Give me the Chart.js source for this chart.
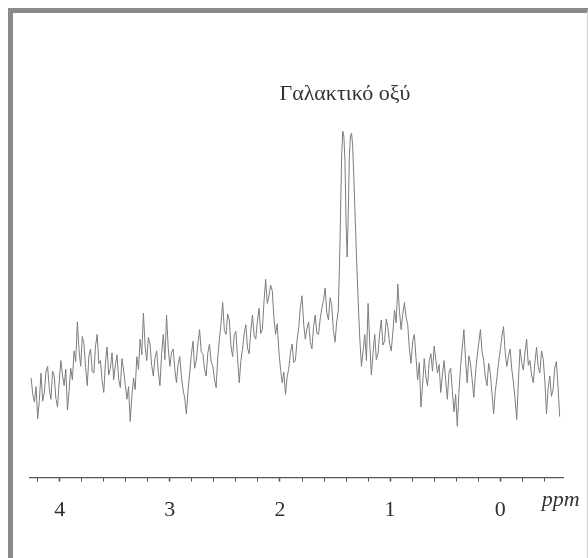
<!DOCTYPE html>
<html>
<head>
<meta charset="utf-8">
<script src="https://cdn.jsdelivr.net/npm/chart.js@4.4.1/dist/chart.umd.min.js"></script>
<style>
  html, body { margin: 0; padding: 0; background: #fff; }
  #wrap { position: relative; width: 588px; height: 558px; overflow: hidden; }
  #grafico { position: absolute; left: 0; top: 0; }
  #marco {
    position: absolute; left: 8px; top: 8px; width: 580px; height: 560px;
    border-left: 5px solid #8a8a8a; border-top: 5px solid #8a8a8a;
    border-right: 1px solid #d0d0d0; box-sizing: border-box; pointer-events: none;
  }
</style>
</head>
<body>
<div id="wrap">
  <canvas id="grafico" width="588" height="558"></canvas>
  <div id="marco"></div>
</div>
<script>
// chemical shift (ppm) of each sample
const desplazamiento = [
  4.26, 4.245, 4.23, 4.215, 4.20, 4.185, 4.17, 4.155, 4.14, 4.125,
  4.11, 4.095, 4.08, 4.065, 4.05, 4.035, 4.02, 4.005, 3.99, 3.975,
  3.96, 3.945, 3.93, 3.915, 3.90, 3.885, 3.87, 3.855, 3.84, 3.825,
  3.81, 3.795, 3.78, 3.765, 3.75, 3.735, 3.72, 3.705, 3.69, 3.675,
  3.66, 3.645, 3.63, 3.615, 3.60, 3.585, 3.57, 3.555, 3.54, 3.525,
  3.51, 3.495, 3.48, 3.465, 3.45, 3.435, 3.42, 3.405, 3.39, 3.375,
  3.36, 3.345, 3.33, 3.315, 3.30, 3.285, 3.27, 3.255, 3.24, 3.225,
  3.21, 3.195, 3.18, 3.165, 3.15, 3.135, 3.12, 3.105, 3.09, 3.075,
  3.06, 3.045, 3.03, 3.015, 3.00, 2.985, 2.97, 2.955, 2.94, 2.925,
  2.91, 2.895, 2.88, 2.865, 2.85, 2.835, 2.82, 2.805, 2.79, 2.775,
  2.76, 2.745, 2.73, 2.715, 2.70, 2.685, 2.67, 2.655, 2.64, 2.625,
  2.61, 2.595, 2.58, 2.565, 2.55, 2.535, 2.52, 2.505, 2.49, 2.475,
  2.46, 2.445, 2.43, 2.415, 2.40, 2.385, 2.37, 2.355, 2.34, 2.325,
  2.31, 2.295, 2.28, 2.265, 2.25, 2.235, 2.22, 2.205, 2.19, 2.175,
  2.16, 2.145, 2.13, 2.115, 2.10, 2.085, 2.07, 2.055, 2.04, 2.025,
  2.01, 1.995, 1.98, 1.965, 1.95, 1.935, 1.92, 1.905, 1.89, 1.875,
  1.86, 1.845, 1.83, 1.815, 1.80, 1.785, 1.77, 1.755, 1.74, 1.725,
  1.71, 1.695, 1.68, 1.665, 1.65, 1.635, 1.62, 1.605, 1.59, 1.575,
  1.56, 1.545, 1.53, 1.515, 1.50, 1.485, 1.47,
  1.455, 1.44, 1.43, 1.42, 1.41, 1.40, 1.39, 1.38, 1.37, 1.36,
  1.35, 1.34, 1.33, 1.32, 1.305, 1.29, 1.275, 1.26,
  1.23, 1.215, 1.20, 1.185, 1.17, 1.155, 1.14, 1.125, 1.11, 1.095,
  1.08, 1.065, 1.05, 1.035, 1.02, 1.005, 0.99, 0.975, 0.96, 0.945,
  0.93, 0.915, 0.90, 0.885, 0.87, 0.855, 0.84, 0.825, 0.81, 0.795,
  0.78, 0.765, 0.75, 0.735, 0.72, 0.705, 0.69, 0.675, 0.66, 0.645,
  0.63, 0.615, 0.60, 0.585, 0.57, 0.555, 0.54, 0.525, 0.51, 0.495,
  0.48, 0.465, 0.45, 0.435, 0.42, 0.405, 0.39, 0.375, 0.36, 0.345,
  0.33, 0.315, 0.30, 0.285, 0.27, 0.255, 0.24, 0.225, 0.21, 0.195,
  0.18, 0.165, 0.15, 0.135, 0.12, 0.105, 0.09, 0.075, 0.06, 0.045,
  0.03, 0.015, 0.00, -0.015, -0.03, -0.045, -0.06, -0.075, -0.09, -0.105,
  -0.12, -0.135, -0.15, -0.165, -0.18, -0.195, -0.21, -0.225, -0.24, -0.255,
  -0.27, -0.285, -0.30, -0.315, -0.33, -0.345, -0.36, -0.375, -0.39, -0.405,
  -0.42, -0.435, -0.45, -0.465, -0.48, -0.495, -0.51, -0.525, -0.54
];

// signal intensity (arbitrary units)
const intensidad = [
  10.3, 8.6, 7.8, 9.4, 6.1, 8.0, 10.8, 7.9, 8.8, 10.9,
  11.5, 9.2, 8.1, 11.0, 10.5, 8.2, 7.3, 9.9, 12.1, 10.6,
  9.5, 11.2, 7.0, 9.0, 11.3, 10.1, 13.1, 12.0, 16.1, 13.2,
  11.5, 14.6, 13.8, 11.4, 9.5, 12.6, 13.3, 11.0, 10.8, 13.6,
  14.8, 11.8, 12.1, 10.0, 8.8, 11.9, 13.5, 10.6, 11.3, 12.9,
  10.1, 11.6, 12.7, 10.2, 9.3, 12.3, 11.1, 9.6, 8.1, 9.4,
  5.8, 8.4, 10.3, 9.1, 12.5, 11.2, 14.3, 12.7, 17.0, 13.6,
  12.1, 14.5, 13.8, 11.6, 10.5, 12.4, 13.1, 11.0, 9.5, 12.8,
  14.8, 12.2, 16.8, 13.4, 11.5, 12.9, 13.3, 11.2, 9.8, 11.7,
  12.5, 10.4, 9.1, 8.2, 6.6, 9.0, 10.8, 12.7, 14.1, 11.3,
  12.1, 13.9, 15.3, 13.0, 12.8, 11.2, 10.5, 12.9, 13.8, 12.0,
  11.5, 10.2, 9.3, 12.4, 14.3, 16.0, 18.1, 15.2, 14.8, 16.9,
  16.3, 13.6, 12.5, 14.8, 15.1, 12.3, 9.8, 12.1, 13.3, 14.9,
  15.8, 13.4, 12.8, 15.2, 16.8, 14.7, 14.3, 16.2, 17.5, 14.9,
  15.3, 18.2, 20.5, 18.0, 18.8, 19.9, 19.3, 16.5, 14.8, 15.9,
  13.1, 11.2, 9.8, 10.9, 8.6, 10.4, 11.3, 12.9, 13.8, 11.9,
  12.1, 14.2, 15.5, 17.6, 18.8, 15.9, 14.3, 15.4, 16.1, 14.0,
  13.3, 15.6, 16.8, 14.9, 14.8, 16.4, 17.5, 18.3, 19.6, 17.1,
  16.3, 18.6, 17.8, 15.2, 14.0, 16.1, 17.3,
  24.3, 33.3, 35.8, 35.3, 32.8, 26.3, 22.8, 27.3, 33.3, 35.3,
  35.6, 34.3, 31.3, 27.8, 22.8, 18.3, 14.3, 11.5,
  14.8, 12.1, 18.0, 13.9, 10.6, 12.9, 14.8, 12.2, 12.8, 14.9,
  16.3, 13.7, 14.1, 16.4, 15.5, 13.9, 13.1, 15.0, 17.3, 16.0,
  20.0, 17.2, 15.3, 16.9, 18.1, 16.6, 15.8, 13.3, 11.8, 14.1,
  14.8, 12.4, 10.1, 11.9, 7.3, 9.6, 12.3, 10.4, 9.5, 12.0,
  12.8, 11.0, 13.6, 12.2, 10.8, 11.7, 8.8, 10.6, 12.1, 10.0,
  8.1, 10.9, 11.3, 9.0, 6.8, 8.6, 5.3, 8.8, 11.5, 13.4,
  15.3, 12.2, 9.8, 12.6, 11.8, 10.1, 8.3, 10.7, 12.5, 13.9,
  15.3, 13.0, 12.1, 10.4, 9.5, 11.8, 10.8, 8.7, 6.6, 8.9,
  10.3, 11.9, 13.1, 14.6, 15.6, 12.9, 11.5, 12.6, 13.3, 11.2,
  9.8, 8.1, 6.0, 10.0, 13.3, 11.9, 11.1, 13.0, 14.3, 11.6,
  12.1, 10.6, 9.8, 11.9, 13.5, 11.4, 10.8, 13.1, 12.3, 10.0,
  6.6, 9.2, 10.5, 8.4, 9.1, 11.3, 12.0, 9.4, 6.3
];

const ticksMayores = [4, 3, 2, 1, 0];
const ticksMenores = [4.2, 3.8, 3.6, 3.4, 3.2, 2.8, 2.6, 2.4, 2.2, 1.8, 1.6, 1.4, 1.2,
                      0.8, 0.6, 0.4, 0.2, -0.2, -0.4];

const unidadEje = 'ppm';
const unidadPos = -0.55;
const nombrePico = 'Γαλακτικό οξύ';
const picoPpm = 1.41;
const picoNivel = 39;

const etiquetas = {
  id: 'etiquetas',
  afterDraw(chart) {
    const ctx = chart.ctx;
    const x = chart.scales.x;
    const y = chart.scales.y;
    ctx.save();
    ctx.fillStyle = '#333';
    ctx.textAlign = 'center';
    ctx.textBaseline = 'alphabetic';
    ctx.font = '22px "Liberation Serif"';
    ctx.fillText(nombrePico, x.getPixelForValue(picoPpm), y.getPixelForValue(picoNivel));
    ctx.font = 'italic 22px "Liberation Serif"';
    ctx.fillText(unidadEje, x.getPixelForValue(unidadPos), x.top + 28);
    ctx.restore();
  }
};

const puntos = desplazamiento.map((p, i) => ({ x: p, y: intensidad[i] }));

new Chart(document.getElementById('grafico').getContext('2d'), {
  type: 'line',
  data: {
    datasets: [{
      data: puntos,
      borderColor: '#7d7d7d',
      borderWidth: 1,
      pointRadius: 0,
      tension: 0,
      fill: false
    }]
  },
  options: {
    responsive: false,
    animation: false,
    devicePixelRatio: 1,
    layout: { padding: { left: 30, right: 25, top: 20, bottom: 20 } },
    plugins: { legend: { display: false }, tooltip: { enabled: false } },
    scales: {
      x: {
        type: 'linear',
        reverse: true,
        min: -0.57,
        max: 4.27,
        afterBuildTicks: (axis) => {
          axis.ticks = ticksMayores.concat(ticksMenores).sort((a, b) => b - a).map(v => ({ value: v }));
        },
        grid: {
          drawOnChartArea: false,
          drawTicks: true,
          tickLength: 4,
          tickColor: '#555',
          tickWidth: (c) => ticksMayores.includes(c.tick && c.tick.value) ? 1.6 : 1
        },
        border: { display: true, color: '#555', width: 1.2 },
        ticks: {
          autoSkip: false,
          maxRotation: 0,
          padding: 15,
          color: '#2e2e2e',
          font: { family: 'Liberation Serif', size: 22 },
          callback: (v) => ticksMayores.includes(v) ? String(v) : ''
        }
      },
      y: {
        display: false,
        min: 0,
        max: 47.3
      }
    }
  },
  plugins: [etiquetas]
});
</script>
</body>
</html>
